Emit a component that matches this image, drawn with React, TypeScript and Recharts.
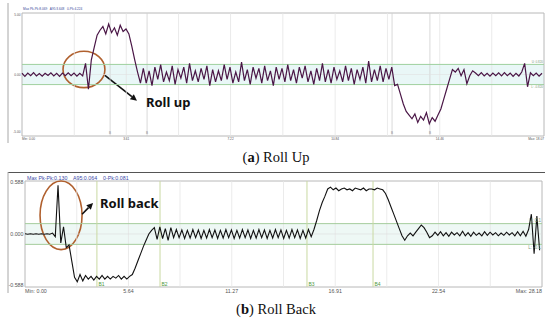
import React from 'react';
import { LineChart, Line, XAxis, YAxis, ReferenceLine, ReferenceArea, ReferenceDot } from 'recharts';

// ---------- (a) Roll Up ----------
const rollUpStep = 0.1;
const rollUpValues = [
  0.1, -0.15, 0.12, -0.1, 0.15, -0.12, 0.08, -0.14, 0.1, -0.08, 0.13, -0.12, 0.09, -0.15, 0.11, -0.1, 0.14, -0.09, 0.12, -0.13, 0.1, -0.11,
  0.9, -1.2, 1.2, 2.2, 3.2,
  3.6, 3.9, 3.3, 4.1, 3.4, 3.8, 3.2, 4.0, 3.5, 3.7,
  3.3, 2.3, 1.2, 0.2, -0.7,
  0.5, -0.7, 0.3, -0.9, 0.6, -0.4, 0.8, -0.6, 0.2, -0.5, 0.7, -0.8, 0.4, -0.3, 0.6, -0.7, 0.9, -0.5, 0.3, -0.6,
  0.5, -0.4, 0.7, -0.9, 0.4, -0.6, 0.3, -0.5, 0.8, -0.4, 0.6, -0.7, 0.2, -0.6, 1.0, -0.5, 0.4, -0.8, 0.6, -0.3,
  0.5, -0.7, 0.7, -0.5, 0.3, -0.9, 0.6, -0.4, 0.5, -0.6, 0.8, -0.5, 0.4, -0.7, 0.6, -0.3, 0.7, -0.6, 0.3, -0.8,
  0.5, -0.5, 0.9, -0.6, 0.4, -0.7, 0.6, -0.4, 0.3, -0.6, 0.7, -0.5, 0.5, -0.8, 0.4, -0.4, 0.6, -0.7, 1.1, -0.6,
  0.4, -0.5, 0.7, -0.6, 0.5, -0.4, 0.6, -0.9,
  -0.8, -1.6, -2.4, -3.0, -3.3,
  -3.6, -3.2, -3.9, -3.4, -3.7, -3.1, -4.0, -3.5, -3.8, -3.3,
  -2.8, -2.0, -1.2, -0.4, 0.4,
  0.2, 0.5, -0.1, 0.4,
  -0.75, -0.1, 0.3,
  0.12, -0.1, 0.15, -0.12, 0.1, -0.14, 0.11, -0.1, 0.13, -0.12, 0.15, -0.1, 0.12, -0.15, 0.1, -0.12, 0.2, 0.9, -1.0, 0.14, -0.1, 0.12, -0.13, 0.1,
];
const rollUpMax = 18.07;
const rollUpTicks = [0, 3.61, 7.22, 10.84, 14.46, 18.07];
const rollUpTickLabels = ['Min: 0.00', '3.61', '7.22', '10.84', '14.46', 'Max: 18.07'];
const rollUpGrid = [1.81, 3.61, 5.42, 7.22, 9.03, 10.84, 12.65, 14.46, 16.26];
const rollUpMarkers = [3.05, 4.33, 12.81, 14.12];
const rollUpMarkerLabels = ['B1', 'B2', 'B3', 'B4'];
const rollUpYTicks = [5, 0, -5];
const rollUpYLabels = ['5.00', '0.00', '-5.00'];
const rollUpLimit = 0.82;
const rollUpLimitLabels = ['U: 0.820', 'L: -0.820'];
const rollUpHeader = 'Max Pk-Pk:8.069   A95:3.648   0-Pk:4.224';

// ---------- (b) Roll Back ----------
const rollBackStep = 0.15;
const rollBackValues = [
  0.002, -0.003, 0.003, -0.002, 0.002, -0.003, 0.002, -0.002, 0.003, -0.002,
  0.01, -0.03, 0.54, -0.1, 0.08, -0.15, -0.12, -0.3, -0.48,
  -0.53, -0.45, -0.52, -0.46, -0.5, -0.47, -0.51, -0.47, -0.5, -0.46, -0.5, -0.47, -0.5, -0.47, -0.49, -0.46, -0.5, -0.47, -0.5, -0.47,
  -0.45, -0.38, -0.3, -0.22, -0.14, -0.07, 0.0, 0.04,
  0.07, -0.06, 0.08, -0.05, 0.06, -0.07, 0.07, -0.04,
  0.05, -0.04, 0.045, -0.05, 0.04, -0.045, 0.05, -0.04, 0.045, -0.05,
  0.04, -0.045, 0.05, -0.04, 0.045, -0.05, 0.04, -0.045, 0.05, -0.04,
  0.045, -0.05, 0.04, -0.045, 0.05, -0.04, 0.045, -0.05, 0.04, -0.045,
  0.05, -0.04, 0.045, -0.05, 0.04, -0.045, 0.05, -0.04, 0.045, -0.05,
  0.04, -0.045, 0.05, -0.04, 0.045, -0.05, 0.04, -0.045, 0.05, -0.03,
  0.05, 0.15, 0.26, 0.35, 0.42, 0.5,
  0.52, 0.49, 0.51, 0.48, 0.5, 0.51, 0.49, 0.5, 0.48, 0.51, 0.5, 0.49, 0.51, 0.48, 0.5, 0.5, 0.49, 0.51, 0.5, 0.49,
  0.45, 0.38, 0.3, 0.22, 0.14, 0.06, -0.02, -0.07, -0.02,
  0.01, -0.02, 0.02, 0.06, 0.1, 0.07, 0.02, -0.04, -0.02,
  0.02, -0.015, 0.025, -0.02, 0.015, -0.025, 0.02, -0.01, 0.015, -0.02,
  0.03, -0.02, 0.015, -0.025, 0.02, -0.015, 0.01, -0.02, 0.025, -0.015,
  0.02, -0.01, 0.015, -0.02, 0.01, -0.015, 0.02, -0.01, 0.015, -0.02,
  0.025, -0.02, 0.03, -0.025,
  0.05, 0.22, -0.22, 0.2, -0.18,
];
const rollBackMax = 28.18;
const rollBackTicks = [0, 5.64, 11.27, 16.91, 22.54, 28.18];
const rollBackTickLabels = ['Min: 0.00', '5.64', '11.27', '16.91', '22.54', 'Max: 28.18'];
const rollBackGrid = [2.82, 5.64, 8.45, 11.27, 14.09, 16.91, 19.72, 22.54, 25.36];
const rollBackMarkers = [3.92, 7.36, 15.37, 18.97];
const rollBackMarkerLabels = ['B1', 'B2', 'B3', 'B4'];
const rollBackYTicks = [0.588, 0, -0.588];
const rollBackYLabels = ['0.588', '0.000', '-0.588'];
const rollBackLimit = 0.115;
const rollBackLimitLabels = ['U: 0.1', 'L: -0.1'];
const rollBackHeader = 'Max Pk-Pk:0.130    A95:0.064    0-Pk:0.081';

const rollUpData = rollUpValues.map((v, i) => ({ t: +(i * rollUpStep).toFixed(3), v }));
const rollBackData = rollBackValues.map((v, i) => ({ t: +(i * rollBackStep).toFixed(3), v }));

const SANS = '"Liberation Sans", Arial, sans-serif';
const SERIF = '"Liberation Serif", "Times New Roman", serif';
const BOLD_SANS = '"Noto Sans", "Open Sans", sans-serif';

const makeXTick = (ticks: number[], labels: string[], fs: number) => (props: any) => {
  const { x, y, payload } = props;
  const idx = ticks.findIndex((t) => Math.abs(t - payload.value) < 1e-6);
  const anchor = idx === 0 ? 'start' : idx === ticks.length - 1 ? 'end' : 'middle';
  return (
    <text x={x} y={y} dy="0.35em" textAnchor={anchor} fontSize={fs} fill="#555" fontFamily={SANS}>
      {labels[idx] ?? ''}
    </text>
  );
};

const makeYTick = (ticks: number[], labels: string[], fs: number, lastDy: number) => (props: any) => {
  const { x, y, payload } = props;
  const idx = ticks.findIndex((t) => Math.abs(t - payload.value) < 1e-6);
  return (
    <text x={x} y={y + (idx === ticks.length - 1 ? lastDy : idx === 0 ? 1.5 : 0)} dy="0.35em" textAnchor="end" fontSize={fs} fill="#555" fontFamily={SANS}>
      {labels[idx] ?? ''}
    </text>
  );
};

const ellipseShape = (color: string) => (p: any) => (
  <ellipse cx={p.x + p.width / 2} cy={p.y + p.height / 2} rx={p.width / 2} ry={p.height / 2} fill="none" stroke={color} strokeWidth={1.6} />
);

// dir: 'down' means from top-left to bottom-right, 'up' means bottom-left to top-right
const arrowShape = (dir: 'down' | 'up') => (p: any) => {
  const x1 = p.x;
  const x2 = p.x + p.width;
  const y1 = dir === 'down' ? p.y : p.y + p.height;
  const y2 = dir === 'down' ? p.y + p.height : p.y;
  const ang = Math.atan2(y2 - y1, x2 - x1);
  const L = 6.5;
  const W = 3.2;
  const bx = x2 - L * Math.cos(ang);
  const by = y2 - L * Math.sin(ang);
  const px = -Math.sin(ang) * W;
  const py = Math.cos(ang) * W;
  return (
    <g>
      <line x1={x1} y1={y1} x2={bx} y2={by} stroke="#111" strokeWidth={1.6} />
      <polygon points={`${x2},${y2} ${bx + px},${by + py} ${bx - px},${by - py}`} fill="#111" />
    </g>
  );
};

const textShape = (text: string, fs: number, color: string, family: string, weight: any = 'normal', anchor: any = 'start', dx = 0, dy = 0) => (p: any) => (
  <text x={p.cx + dx} y={p.cy + dy} fontSize={fs} fill={color} fontFamily={family} fontWeight={weight} textAnchor={anchor}>
    {text}
  </text>
);

export default function App() {
  return (
    <div style={{ position: 'absolute', left: 0, top: 0, width: 550, height: 320, background: '#fff', overflow: 'hidden' }}>
      {/* (a) Roll Up */}
      <div style={{ position: 'absolute', left: 0, top: 0 }}>
        <LineChart width={550} height={150} data={rollUpData} margin={{ top: 13, right: 6, bottom: 0, left: 0 }}>
          <XAxis dataKey="t" type="number" domain={[0, rollUpMax]} ticks={rollUpTicks} interval={0} height={14}
            tickLine={false} axisLine={false} tickSize={0} tickMargin={3} tick={makeXTick(rollUpTicks, rollUpTickLabels, 3.2)} />
          <YAxis type="number" domain={[-5, 5]} ticks={rollUpYTicks} interval={0} width={22}
            tickLine={false} axisLine={false} tickSize={0} tickMargin={1.5} tick={makeYTick(rollUpYTicks, rollUpYLabels, 3.2, -4)} />
          <ReferenceArea x1={0} x2={rollUpMax} y1={-rollUpLimit} y2={rollUpLimit} fill="#e9f7f7" fillOpacity={1} stroke="none" />
          {rollUpGrid.map((g) => (
            <ReferenceLine key={'g' + g} x={g} stroke="#e4e4e4" strokeWidth={0.8} />
          ))}
          {rollUpMarkers.map((m) => (
            <ReferenceLine key={'m' + m} x={m} stroke="#cfcfcf" strokeWidth={0.8} />
          ))}
          <ReferenceLine y={0} stroke="#e0e0e0" strokeWidth={0.6} />
          <ReferenceLine y={rollUpLimit} stroke="#9fd09f" strokeWidth={1} />
          <ReferenceLine y={-rollUpLimit} stroke="#9fd09f" strokeWidth={1} />
          <Line type="linear" dataKey="v" stroke="#4a1646" strokeWidth={1.2} dot={false} isAnimationActive={false} />
          <ReferenceArea x1={0} x2={rollUpMax} y1={-5} y2={5} fill="none" stroke="#b8b8b8" strokeWidth={1} />
          {rollUpMarkers.map((m, i) => (
            <ReferenceDot key={'ml' + m} x={m} y={-5} r={1}
              shape={textShape(rollUpMarkerLabels[i].slice(0, 1), 3, '#888', SANS, 'normal', 'middle', 0, -2)} />
          ))}
          <ReferenceDot x={rollUpMax} y={rollUpLimit} r={1} shape={textShape(rollUpLimitLabels[0], 3, '#7a9a7a', SANS, 'normal', 'end', -1, -1.5)} />
          <ReferenceDot x={rollUpMax} y={-rollUpLimit} r={1} shape={textShape(rollUpLimitLabels[1], 3, '#7a9a7a', SANS, 'normal', 'end', -1, 3.5)} />
          <ReferenceArea x1={1.42} x2={2.87} y1={-1.07} y2={1.89} shape={ellipseShape('#b0602e')} />
          <ReferenceArea x1={2.87} x2={3.98} y1={-2.13} y2={-0.08} shape={arrowShape('down')} />
          <ReferenceDot x={4.29} y={-2.62} r={1} shape={textShape('Roll up', 13, '#111', BOLD_SANS, 700)} />
        </LineChart>
      </div>

      {/* (b) Roll Back */}
      <div style={{ position: 'absolute', left: 0, top: 172 }}>
        <LineChart width={550} height={128} data={rollBackData} margin={{ top: 9, right: 8, bottom: 0, left: 0 }}>
          <XAxis dataKey="t" type="number" domain={[0, rollBackMax]} ticks={rollBackTicks} interval={0} height={13}
            tickLine={false} axisLine={false} tickSize={0} tickMargin={4} tick={makeXTick(rollBackTicks, rollBackTickLabels, 5.3)} />
          <YAxis type="number" domain={[-0.588, 0.588]} ticks={rollBackYTicks} interval={0} width={25}
            tickLine={false} axisLine={false} tickSize={0} tickMargin={1.5} tick={makeYTick(rollBackYTicks, rollBackYLabels, 5.3, -1.5)} />
          <ReferenceArea x1={0} x2={rollBackMax} y1={-rollBackLimit} y2={rollBackLimit} fill="#eef8f5" fillOpacity={1} stroke="none" />
          {rollBackGrid.map((g) => (
            <ReferenceLine key={'g' + g} x={g} stroke="#e6e6e6" strokeWidth={0.8} />
          ))}
          <ReferenceLine y={0} stroke="#dcdcdc" strokeWidth={0.6} />
          <ReferenceLine y={rollBackLimit} stroke="#a4cc9c" strokeWidth={1} />
          <ReferenceLine y={-rollBackLimit} stroke="#a4cc9c" strokeWidth={1} />
          {rollBackMarkers.map((m) => (
            <ReferenceLine key={'m' + m} x={m} stroke="#c9d9a2" strokeWidth={1} />
          ))}
          <Line type="linear" dataKey="v" stroke="#111" strokeWidth={1.1} dot={false} isAnimationActive={false} />
          <ReferenceArea x1={0} x2={rollBackMax} y1={-0.588} y2={0.588} fill="none" stroke="#b8b8b8" strokeWidth={1} />
          {rollBackMarkers.map((m, i) => (
            <ReferenceDot key={'ml' + m} x={m} y={-0.588} r={1}
              shape={textShape(rollBackMarkerLabels[i], 5, '#4f9a3c', SANS, 'normal', 'start', 1.5, -1)} />
          ))}
          <ReferenceDot x={rollBackMax} y={rollBackLimit} r={1} shape={textShape(rollBackLimitLabels[0], 4.5, '#7a9a7a', SANS, 'normal', 'end', -1, -1.5)} />
          <ReferenceDot x={rollBackMax} y={-rollBackLimit} r={1} shape={textShape(rollBackLimitLabels[1], 4.5, '#7a9a7a', SANS, 'normal', 'end', -1, 5)} />
          <ReferenceArea x1={0.82} x2={3.11} y1={-0.173} y2={0.588} shape={ellipseShape('#b0602e')} />
          <ReferenceArea x1={3.11} x2={3.71} y1={0.219} y2={0.345} shape={arrowShape('up')} />
          <ReferenceDot x={4.09} y={0.288} r={1} shape={textShape('Roll back', 13, '#111', BOLD_SANS, 700)} />
        </LineChart>
      </div>

      {/* panel frames, headers and captions */}
      <svg width={550} height={320} style={{ position: 'absolute', left: 0, top: 0, pointerEvents: 'none' }}>
        <line x1={8} y1={3} x2={8} y2={143} stroke="#a8a8a8" strokeWidth={1} />
        <text x={23} y={10} fontSize={3.2} fill="#3b4a9a" fontFamily={SANS} style={{ whiteSpace: 'pre' }}>{rollUpHeader}</text>
        <text x={276} y={162} textAnchor="middle" fontSize={14.5} fill="#111" fontFamily={SERIF}>
          (<tspan fontWeight="bold">a</tspan>) Roll Up
        </text>
        <line x1={8} y1={172.5} x2={545} y2={172.5} stroke="#555" strokeWidth={1} />
        <line x1={8} y1={172} x2={8} y2={293} stroke="#a8a8a8" strokeWidth={1} />
        <text x={27} y={179.5} fontSize={5.3} fill="#3b4aa8" fontFamily={SANS} style={{ whiteSpace: 'pre' }}>{rollBackHeader}</text>
        <text x={276} y={314} textAnchor="middle" fontSize={14.5} fill="#111" fontFamily={SERIF}>
          (<tspan fontWeight="bold">b</tspan>) Roll Back
        </text>
      </svg>
    </div>
  );
}
